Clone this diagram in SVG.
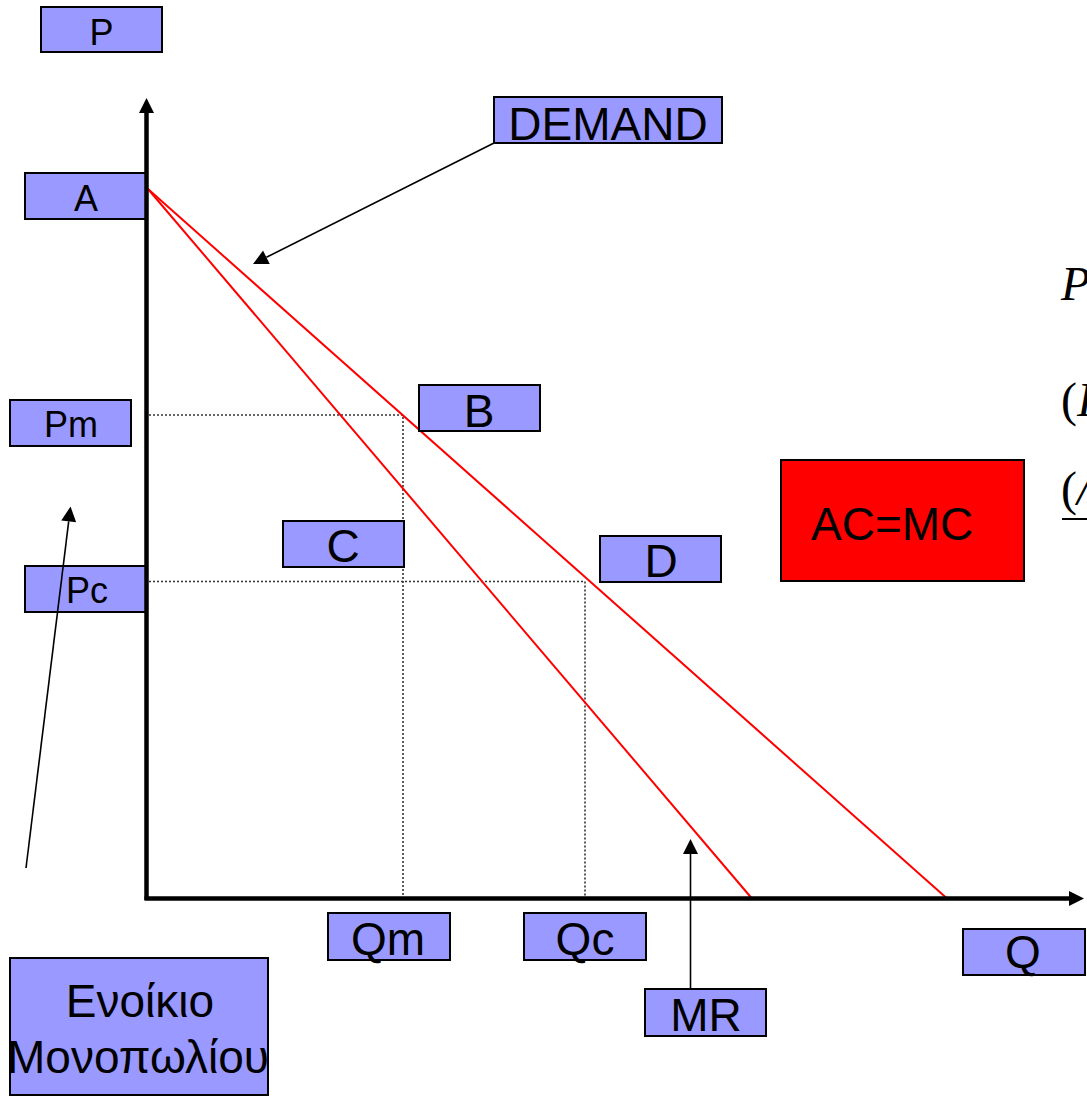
<svg xmlns="http://www.w3.org/2000/svg" width="1087" height="1096" viewBox="0 0 1087 1096">
  <style>
    .box { fill: #9999ff; stroke: #000; stroke-width: 2; }
    .hot { fill: #ff0000; stroke: #000; stroke-width: 2; }
    .lbl { font-family: "Liberation Sans", Arial, sans-serif; fill: #000; text-anchor: middle; }
    .s { font-size: 36px; }
    .l { font-size: 46px; }
    .axis { stroke: #000; stroke-width: 4.5; fill: none; }
    .curve { stroke: #ff0000; stroke-width: 2; fill: none; }
    .guide { stroke: #333; stroke-width: 1.6; stroke-dasharray: 2 2; fill: none; }
    .ptr { stroke: #000; stroke-width: 1.6; fill: none; marker-end: url(#head); }
    .math { font-family: "Liberation Serif", "Times New Roman", serif; font-style: italic; font-size: 48px; fill: #000; }
    .up { font-style: normal; }
  </style>
  <defs>
    <marker id="head" markerUnits="userSpaceOnUse" markerWidth="16" markerHeight="16" refX="0" refY="7.5" orient="auto" overflow="visible">
      <path d="M0,0 L15,7.5 L0,15 Z" fill="#000"/>
    </marker>
    <marker id="axhead" markerUnits="userSpaceOnUse" markerWidth="16" markerHeight="16" refX="0" refY="7.5" orient="auto" overflow="visible">
      <path d="M0,0 L15,7.5 L0,15 Z" fill="#000"/>
    </marker>
  </defs>

  <rect width="1087" height="1096" fill="#fff"/>

  <!-- guides for Pm/Qm and Pc/Qc -->
  <g id="guides">
    <path class="guide" d="M149,415 H403 V897"/>
    <path class="guide" d="M149,581.5 H585 V897"/>
  </g>

  <!-- demand and marginal revenue curves -->
  <g id="curves">
    <line class="curve" x1="148" y1="189" x2="946.5" y2="898"/>
    <line class="curve" x1="148" y1="189" x2="751.5" y2="898"/>
  </g>

  <!-- label boxes -->
  <g id="node-P"><rect class="box" x="41" y="7" width="121" height="45"/><text class="lbl s" x="101.5" y="45">P</text></g>
  <g id="node-A"><rect class="box" x="25" y="173" width="121" height="46"/><text class="lbl s" x="86" y="211">A</text></g>
  <g id="node-Pm"><rect class="box" x="10" y="400" width="121" height="46"/><text class="lbl s" x="71" y="437">Pm</text></g>
  <g id="node-Pc"><rect class="box" x="25" y="566" width="121" height="46"/><text class="lbl s" x="87" y="603">Pc</text></g>
  <g id="node-DEMAND"><rect class="box" x="494" y="97" width="228" height="46"/><text class="lbl l" x="608" y="140">DEMAND</text></g>
  <g id="node-B"><rect class="box" x="419" y="385" width="121" height="46"/><text class="lbl l" x="479" y="427">B</text></g>
  <g id="node-C"><rect class="box" x="283" y="521" width="121" height="46"/><text class="lbl l" x="343" y="562">C</text></g>
  <g id="node-D"><rect class="box" x="600" y="536" width="121" height="46"/><text class="lbl l" x="661" y="577">D</text></g>
  <g id="node-ACMC"><rect class="hot" x="781" y="460" width="243" height="121"/><text class="lbl l" x="811" y="540" style="text-anchor:start">AC=MC</text></g>
  <g id="node-Qm"><rect class="box" x="328" y="913" width="122" height="47"/><text class="lbl l" x="388" y="955">Qm</text></g>
  <g id="node-Qc"><rect class="box" x="524" y="913" width="122" height="47"/><text class="lbl l" x="585" y="955">Qc</text></g>
  <g id="node-Q"><rect class="box" x="963" y="929" width="122" height="46"/><text class="lbl l" x="1023" y="968">Q</text></g>
  <g id="node-MR"><rect class="box" x="645" y="989" width="121" height="47"/><text class="lbl l" x="706" y="1031">MR</text></g>
  <g id="node-rent"><rect class="box" x="10" y="958" width="258" height="137"/>
    <text class="lbl l" x="140" y="1017">Ενοίκιο</text>
    <text class="lbl l" x="138" y="1073">Μονοπωλίου</text>
  </g>

  <!-- formula running off the right edge -->
  <g id="formula">
    <text class="math" x="1061" y="300">P</text>
    <text class="math" x="1061" y="416"><tspan class="up">(</tspan>I</text>
    <text class="math" x="1061" y="505"><tspan class="up">(</tspan>/</text>
    <line x1="1062" y1="519" x2="1087" y2="519" stroke="#000" stroke-width="2"/>
  </g>

  <!-- axes and pointers -->
  <g id="connectors">
    <path class="axis" d="M146.5,900 V113" marker-end="url(#axhead)"/>
    <path class="axis" d="M144.5,898.5 H1069" marker-end="url(#axhead)"/>
    <path class="ptr" d="M494,143 L266.4,257.3"/>
    <path class="ptr" d="M26,868 L68.7,521.4"/>
    <path class="ptr" d="M690.5,989 V854"/>
  </g>
</svg>
